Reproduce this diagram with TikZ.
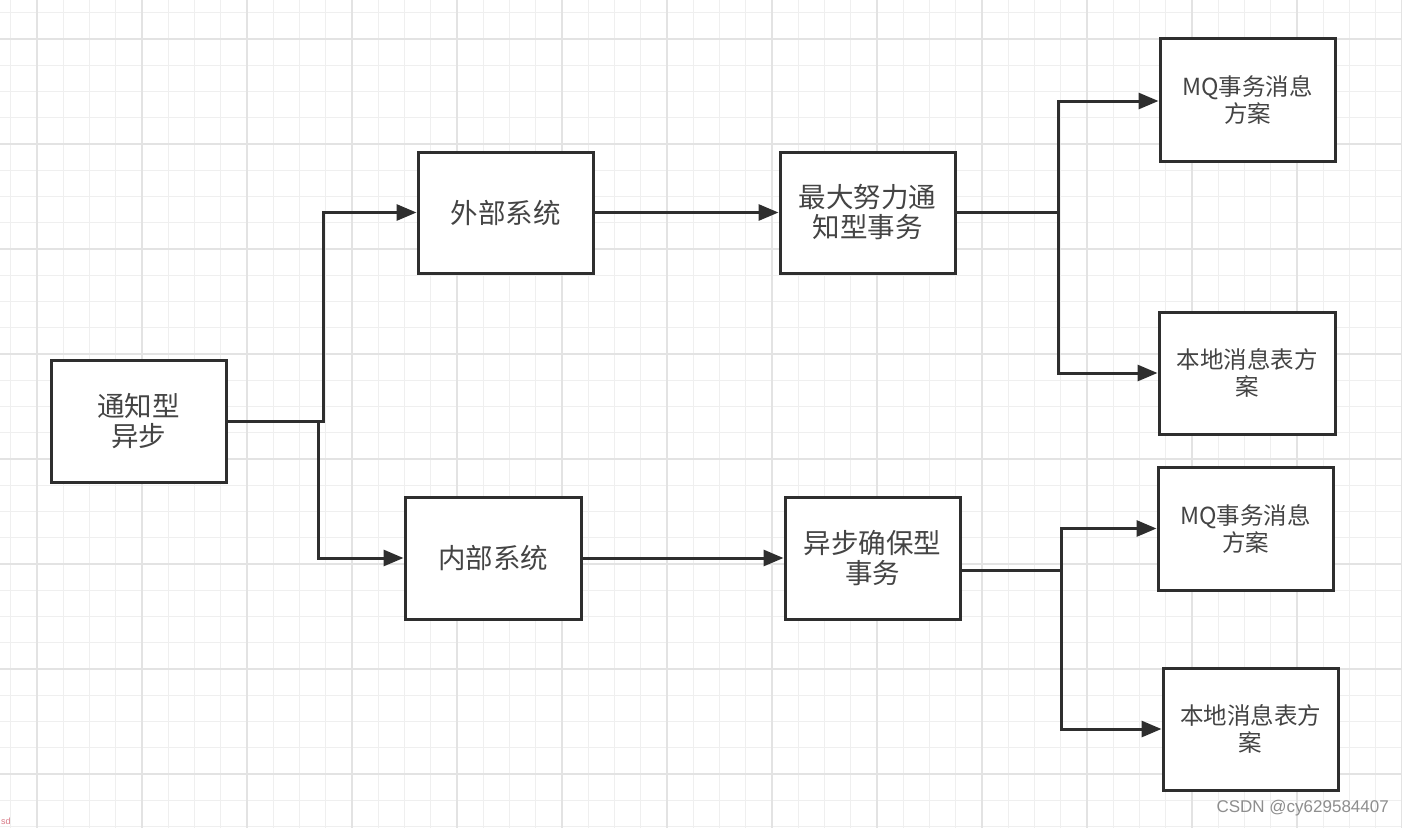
\documentclass[tikz,border=0pt]{standalone}
\usepackage{fontspec}
\usetikzlibrary{arrows.meta,calc}
\newfontfamily\cjk{Noto Sans CJK SC}
\newfontfamily\wmfont{Liberation Sans}
\definecolor{gridminor}{HTML}{EFEFEF}
\definecolor{gridmajor}{HTML}{E3E3E3}
\definecolor{linec}{HTML}{2E2E2E}
\definecolor{textc}{HTML}{444444}
\definecolor{wmc}{HTML}{8E8E8E}
\definecolor{sdc}{HTML}{D87A86}
\tikzset{
  box/.style={draw=linec, line width=3pt, fill=white, inner sep=0pt,
    minimum width=175pt, minimum height=122pt, align=center, text=textc},
  bigtxt/.style={font=\cjk\fontsize{27.5}{30}\selectfont},
  smalltxt/.style={font=\cjk\fontsize{23.5}{27}\selectfont},
  conn/.style={draw=linec, line width=3pt},
  arr/.style={conn, -{Triangle[length=20pt,width=16pt]}}
}
\begin{document}
\begin{tikzpicture}[x=1pt,y=-1pt]
\useasboundingbox (0,0) rectangle (1402,828);
\fill[white] (0,0) rectangle (1402,828);
% grid
\foreach \k in {-1,...,52}{
  \pgfmathsetmacro{\xx}{37+26.25*\k}
  \draw[gridminor, line width=1.3pt] (\xx,0) -- (\xx,828);
}
\foreach \k in {-1,...,30}{
  \pgfmathsetmacro{\yy}{39+26.25*\k}
  \draw[gridminor, line width=1.3pt] (0,\yy) -- (1402,\yy);
}
\foreach \k in {0,...,13}{
  \pgfmathsetmacro{\xx}{37+105*\k}
  \draw[gridmajor, line width=1.3pt] (\xx,0) -- (\xx,828);
}
\foreach \k in {0,...,7}{
  \pgfmathsetmacro{\yy}{39+105*\k}
  \draw[gridmajor, line width=1.3pt] (0,\yy) -- (1402,\yy);
}
% nodes
\node[box,bigtxt] (a) at (138.5,421) {通知型\\异步};
\node[box,bigtxt,minimum height=121pt] (ext) at (505.5,212.5) {外部系统};
\node[box,bigtxt,minimum width=176pt] (int) at (493,558) {内部系统};
\node[box,bigtxt,minimum height=121pt] (best) at (867.5,212.5) {最大努力通\\知型事务};
\node[box,bigtxt] (asy) at (872.5,558) {异步确保型\\事务};
\node[box,smalltxt,minimum height=123pt] (mq1) at (1247.5,99.5) {MQ事务消息\\方案};
\node[box,smalltxt,minimum width=176pt] (loc1) at (1247,373) {本地消息表方\\案};
\node[box,smalltxt,minimum height=123pt] (mq2) at (1245.5,528.5) {MQ事务消息\\方案};
\node[box,smalltxt] (loc2) at (1250.5,729) {本地消息表方\\案};
% connectors
\draw[arr] (a.east) -- ++(96,0) |- (ext.west);
\draw[arr] (a.east) -- ++(91,0) |- (int.west);
\draw[arr] (ext.east) -- (best.west);
\draw[arr] (int.east) -- (asy.west);
\draw[conn] (best.east) -- ++(102,0) coordinate (bj);
\draw[arr] (bj) |- ([yshift=-1.5pt]mq1.west);
\draw[arr] (bj) |- (loc1.west);
\draw[conn] ([yshift=-12pt]asy.east) -- ++(100,0) coordinate (aj);
\draw[arr] (aj) |- (mq2.west);
\draw[arr] (aj) |- (loc2.west);
% watermark texts
\node[text=wmc, font=\wmfont\fontsize{17}{17}\selectfont, inner sep=0pt, anchor=east] (wm) at (1389,808) {CSDN @cy629584407};
\node[text=sdc, font=\wmfont\fontsize{9}{9}\selectfont, inner sep=0pt, anchor=west] (sd) at (1,821) {sd};
\end{tikzpicture}
\end{document}
